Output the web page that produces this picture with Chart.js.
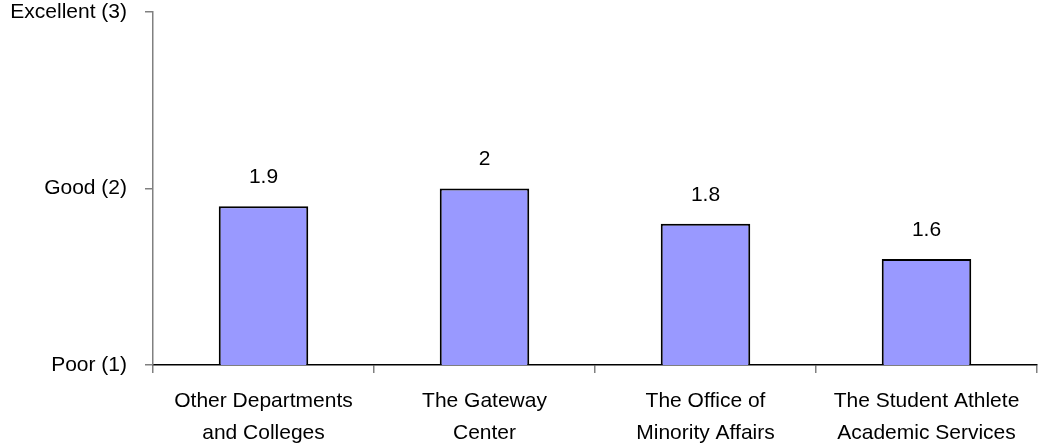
<!DOCTYPE html>
<html>
<head>
<meta charset="utf-8">
<script src="https://cdn.jsdelivr.net/npm/chart.js@4"></script>
<style>
  body { margin: 0; background: #fff; }
  canvas { display: block; }
</style>
</head>
<body>
<canvas id="chart" width="1040" height="444"></canvas>
<script>
const categories = [
    ['Other Departments', 'and Colleges'],
    ['The Gateway', 'Center'],
    ['The Office of', 'Minority Affairs'],
    ['The Student Athlete', 'Academic Services']
];
const ratings = [1.9, 2, 1.8, 1.6];
const ratingLabels = { 1: 'Poor (1)', 2: 'Good (2)', 3: 'Excellent (3)' };

const FONT = 'Liberation Sans, Arial, sans-serif';

// prints each bar's value above it
const valueLabels = {
    id: 'valueLabels',
    afterDatasetsDraw(chart) {
        const ctx = chart.ctx;
        const meta = chart.getDatasetMeta(0);
        ctx.save();
        ctx.font = '21px ' + FONT;
        ctx.fillStyle = '#000';
        ctx.textAlign = 'center';
        ctx.textBaseline = 'middle';
        meta.data.forEach((bar, i) => {
            ctx.fillText(String(ratings[i]), bar.x, bar.y - 29);
        });
        ctx.restore();
    }
};

document.addEventListener('DOMContentLoaded', function() {
    const $ctx = document.getElementById('chart');

    new Chart($ctx, {
        type: 'bar',
        data: {
            labels: categories,
            datasets: [{
                data: ratings,
                backgroundColor: '#9999FF',
                borderColor: '#000',
                borderWidth: 2,
                barPercentage: 0.405,
                categoryPercentage: 1
            }]
        },
        options: {
            responsive: false,
            animation: false,
            layout: { padding: { top: 0, right: 3, left: 0, bottom: 0 } },
            plugins: {
                legend: { display: false },
                tooltip: { enabled: false }
            },
            scales: {
                x: {
                    offset: true,
                    grid: {
                        offset: true,
                        drawOnChartArea: false,
                        drawTicks: true,
                        tickLength: 8,
                        color: '#808080',
                        lineWidth: 1.5
                    },
                    border: { color: '#000', width: 1.5 },
                    ticks: {
                        color: '#000',
                        font: { family: FONT, size: 21, lineHeight: 1.52 },
                        padding: 12,
                        maxRotation: 0,
                        autoSkip: false
                    },
                    afterFit(scale) { scale.height = 79; }
                },
                y: {
                    min: 1,
                    max: 3,
                    grid: {
                        drawOnChartArea: false,
                        drawTicks: true,
                        tickLength: 8,
                        color: '#808080',
                        lineWidth: 1.5
                    },
                    border: { color: '#808080', width: 1.5 },
                    ticks: {
                        stepSize: 1,
                        color: '#000',
                        font: { family: FONT, size: 21 },
                        padding: 18,
                        callback: v => ratingLabels[v] || ''
                    },
                    afterFit(scale) {
                        scale.width = 153;
                        // only half a label is needed above the top tick
                        scale.paddingTop = 12;
                        scale.paddingBottom = 0;
                    }
                }
            }
        },
        plugins: [valueLabels]
    });
}, false);
</script>
</body>
</html>
